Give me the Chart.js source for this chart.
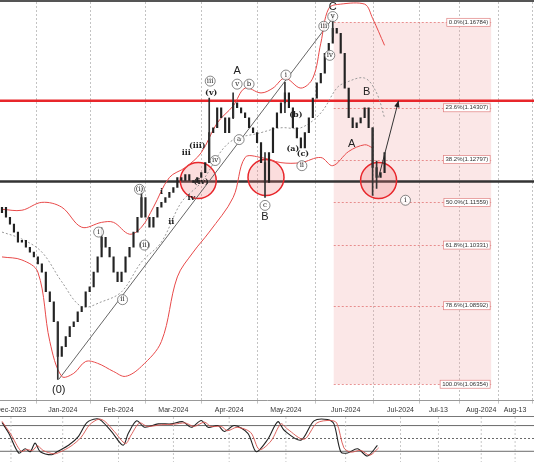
<!DOCTYPE html>
<html>
<head>
<meta charset="utf-8">
<script src="https://cdn.jsdelivr.net/npm/chart.js@4"></script>
<style>
  body { margin: 0; background: #fff; width: 534px; height: 462px; overflow: hidden; font-family: "Liberation Sans", Arial, sans-serif; }
  #main-wrap { position: absolute; left: 0; top: 0; width: 534px; height: 416px; border-top: 2px solid #555; box-sizing: border-box; }
  #stoch-wrap { position: absolute; left: 0; top: 416px; width: 534px; height: 46px; border-top: 1px solid #777; box-sizing: border-box; }
</style>
</head>
<body>
<div id="main-wrap"><canvas id="price-chart"></canvas></div>
<div id="stoch-wrap"><canvas id="stoch-chart"></canvas></div>
<script>
// closes, one per bar (bar index = position)
const closes = [
  1.1268, 1.1235, 1.1212, 1.1186, 1.1153, 1.1159, 1.1136, 1.1120, 1.1104, 1.1081,
  1.1054, 1.0989, 1.0956, 1.0890, 1.0776, 1.0808, 1.0841, 1.0874, 1.0890, 1.0923,
  1.0940, 1.0989, 1.1005, 1.1054, 1.1104, 1.1169, 1.1136, 1.1104, 1.1054, 1.1022,
  1.1054, 1.1104, 1.1136, 1.1186, 1.1235, 1.1300, 1.1235, 1.1202, 1.1235, 1.1268,
  1.1284, 1.1300, 1.1317, 1.1333, 1.1366, 1.1356, 1.1376, 1.1356, 1.1350, 1.1366,
  1.1382, 1.1415, 1.1514, 1.1530, 1.1596, 1.1563, 1.1514, 1.1563, 1.1612, 1.1596,
  1.1579, 1.1563, 1.1530, 1.1514, 1.1481, 1.1415, 1.1350, 1.1448, 1.1530, 1.1579,
  1.1612, 1.1645, 1.1596, 1.1530, 1.1497, 1.1464, 1.1514, 1.1563, 1.1628, 1.1678,
  1.1710, 1.1776, 1.1809, 1.1858, 1.1842, 1.1776, 1.1661, 1.1563, 1.1530, 1.1546,
  1.1563, 1.1596, 1.1530, 1.1399, 1.1366, 1.1382, 1.1448
];
const firstOpen = 1.1250;

// notable wicks: [bar, low, high]
const wicks = [
  [14, 1.0700, 1.0890], [25, 1.1136, 1.1200], [35, 1.1235, 1.1330], [52, 1.1415, 1.1628],
  [58, 1.1560, 1.1645], [66, 1.1300, 1.1448], [71, 1.1580, 1.1680], [83, 1.1830, 1.1901],
  [93, 1.1307, 1.1530], [94, 1.1330, 1.1420]
];

const bandUpper = [[0,1.1261],[5,1.1258],[10,1.1284],[15,1.1268],[20,1.1202],[25,1.1218],[28,1.1218],[32,1.1179],[35,1.1202],[38,1.1268],[42,1.1366],[46,1.1399],[50,1.1448],[54,1.1546],[58,1.1602],[61,1.1661],[65,1.1645],[68,1.1661],[71,1.1694],[75,1.1661],[78,1.1694],[80,1.1809],[82,1.1924],[85,1.1938],[91,1.1938],[93,1.1891],[96,1.1802]];
const bandLower = [[0,1.1104],[5,1.1094],[9,1.1054],[12,1.0825],[15,1.0710],[18,1.0720],[21,1.0759],[24,1.0753],[28,1.0726],[31,1.0710],[35,1.0743],[40,1.0825],[44,1.1038],[48,1.1120],[52,1.1186],[58,1.1300],[61,1.1432],[65,1.1432],[70,1.1415],[75,1.1415],[80,1.1432],[83,1.1405],[87,1.1452],[91,1.1474],[93,1.1464]];
const bandMid = [[0,1.1186],[5,1.1163],[10,1.1120],[15,1.1022],[20,1.0940],[25,1.0956],[30,1.0989],[35,1.1087],[40,1.1153],[45,1.1284],[50,1.1350],[57,1.1481],[65,1.1514],[70,1.1530],[75,1.1530],[80,1.1579],[84,1.1661],[86,1.1678],[91,1.1694],[94,1.1645],[96,1.1563]];

const tickPos = [2.25, 15.25, 29.25, 43, 57, 71.25, 86.25, 100, 109.5, 120.25, 128.75];
const tickText = ["Dec-2023", "Jan-2024", "Feb-2024", "Mar-2024", "Apr-2024", "May-2024", "Jun-2024", "Jul-2024", "Jul-13", "Aug-2024", "Aug-13"];

const fibLevels = [1.1878, 1.1596, 1.1425, 1.1284, 1.1143, 1.0943, 1.0684];
const fibText = ["0.0%(1.16784)", "23.6%(1.14307)", "38.2%(1.12797)", "50.0%(1.11559)", "61.8%(1.10331)", "78.6%(1.08592)", "100.0%(1.06354)"];
const fibBox = [83.25, 122.75];

const redLevel = 1.1619;
const blackLevel = 1.1353;
const channel = [[14.25, 1.0700], [83.5, 1.1900]];
const arrowPath = [[94.5, 1.1366], [99.5, 1.1619]];
const circles = [[49.25, 1.1356], [66.25, 1.1366], [94.5, 1.1356]];

// [x, price, text, circled]
const waveLabels = [
  [14.25, 1.0664, "(0)", false], [24.25, 1.1186, "i", true], [30.25, 1.0963, "ii", true],
  [34.5, 1.1327, "(i)", true], [35.75, 1.1143, "(ii)", true], [40, 1.1317, "i", false],
  [42.5, 1.1218, "ii", false], [46.25, 1.1448, "iii", false], [49, 1.1471, "(iii)", false],
  [47.5, 1.1300, "iv", false], [50, 1.1350, "(iv)", false], [52.25, 1.1684, "iii", true],
  [52.5, 1.1645, "(v)", false], [53.5, 1.1422, "iv", true], [59, 1.1717, "A", false],
  [59, 1.1674, "v", true], [62, 1.1674, "b", true], [59.5, 1.1491, "a", true],
  [66, 1.1274, "c", true], [66, 1.1235, "B", false], [71.25, 1.1704, "i", true],
  [73.75, 1.1573, "(b)", false], [73, 1.1461, "(a)", false], [75.5, 1.1445, "(c)", false],
  [75.25, 1.1405, "ii", true], [80.75, 1.1865, "iii", true], [82.25, 1.1769, "iv", true],
  [83, 1.1897, "v", true], [83, 1.1930, "C", false], [87.75, 1.1478, "A", false],
  [91.5, 1.1648, "B", false], [101.25, 1.1291, "i", true]
];

const stochK = [[0,87],[1.7,62],[4.2,16],[5.8,26],[7.1,19],[8.3,39],[9.6,19],[12.5,12],[13.8,19],[16.7,34],[19.2,55],[21.3,87],[23.8,96],[25,91],[27.5,66],[30.4,34],[31.7,62],[33.8,91],[35.8,76],[39.2,84],[42.5,84],[45.4,89],[47.5,76],[50,92],[51.7,76],[54.2,80],[55.8,66],[58.3,80],[61.7,62],[63.8,19],[66.7,48],[69.2,89],[70.8,69],[75,46],[78.3,91],[81.7,94],[83.3,84],[85,19],[86.7,16],[89.2,26],[91.7,9],[94.2,34]];
const stochD = [[0,90],[2.2,60],[4.8,20],[6.3,24],[7.7,22],[8.9,33],[10.3,22],[13,14],[14.5,18],[17.3,32],[19.8,52],[22,82],[24.3,95],[25.8,90],[28.2,66],[31,38],[32.4,58],[34.5,86],[36.5,78],[40,82],[43,83],[46,86],[48.2,78],[50.8,88],[52.4,78],[55,78],[56.6,68],[59,76],[62.4,64],[64.6,24],[67.5,44],[70,84],[71.6,72],[75.8,48],[79,86],[82.4,92],[84,86],[85.8,28],[87.5,18],[90,22],[92.3,11],[94.5,28]];

const X_MIN = -0.5, X_MAX = 133.5;
const xy = (arr) => arr.map(([x, y]) => ({ x, y }));

const candles = closes.map((c, i) => ({ x: i, y: [i === 0 ? firstOpen : closes[i - 1], c] }));

const overlayPlugin = {
  id: "overlay",
  beforeDatasetsDraw(chart) {
    const { ctx, scales: { x, y }, chartArea } = chart;
    ctx.save();
    // fib box
    ctx.fillStyle = "rgba(240,170,170,0.28)";
    ctx.fillRect(x.getPixelForValue(fibBox[0]), y.getPixelForValue(fibLevels[0]),
      x.getPixelForValue(fibBox[1]) - x.getPixelForValue(fibBox[0]),
      y.getPixelForValue(fibLevels[6]) - y.getPixelForValue(fibLevels[0]));
    ctx.strokeStyle = "rgba(220,90,90,0.8)";
    ctx.setLineDash([2, 2]);
    ctx.lineWidth = 0.8;
    fibLevels.forEach((lv) => {
      const py = Math.round(y.getPixelForValue(lv)) + 0.5;
      ctx.beginPath();
      ctx.moveTo(x.getPixelForValue(fibBox[0]), py);
      ctx.lineTo(x.getPixelForValue(fibBox[1]), py);
      ctx.stroke();
    });
    ctx.setLineDash([]);
    // horizontal levels
    ctx.lineWidth = 2.5;
    ctx.strokeStyle = "#e8262b";
    let py = y.getPixelForValue(redLevel);
    ctx.beginPath(); ctx.moveTo(chartArea.left, py); ctx.lineTo(chartArea.right, py); ctx.stroke();
    ctx.strokeStyle = "#333";
    py = y.getPixelForValue(blackLevel);
    ctx.beginPath(); ctx.moveTo(chartArea.left, py); ctx.lineTo(chartArea.right, py); ctx.stroke();
    ctx.restore();
  },
  afterDatasetsDraw(chart) {
    const { ctx, scales: { x, y } } = chart;
    ctx.save();
    // fib labels
    ctx.font = "6px 'Liberation Sans', Arial";
    ctx.textAlign = "right";
    ctx.textBaseline = "middle";
    fibLevels.forEach((lv, i) => {
      const px = x.getPixelForValue(fibBox[1]) - 1;
      const py = y.getPixelForValue(lv);
      const w = ctx.measureText(fibText[i]).width + 4;
      ctx.fillStyle = "#fff";
      ctx.strokeStyle = "#e08080";
      ctx.lineWidth = 0.7;
      ctx.fillRect(px - w, py - 4, w, 8);
      ctx.strokeRect(px - w, py - 4, w, 8);
      ctx.fillStyle = "#333";
      ctx.fillText(fibText[i], px - 2, py);
    });
    // arrow head
    const ax = x.getPixelForValue(arrowPath[1][0]), ay = y.getPixelForValue(arrowPath[1][1]);
    const bx = x.getPixelForValue(arrowPath[0][0]), by = y.getPixelForValue(arrowPath[0][1]);
    const ang = Math.atan2(ay - by, ax - bx);
    ctx.fillStyle = "#222";
    ctx.beginPath();
    ctx.moveTo(ax, ay);
    ctx.lineTo(ax - 7 * Math.cos(ang - 0.4), ay - 7 * Math.sin(ang - 0.4));
    ctx.lineTo(ax - 7 * Math.cos(ang + 0.4), ay - 7 * Math.sin(ang + 0.4));
    ctx.closePath();
    ctx.fill();
    // wave labels
    ctx.textAlign = "center";
    waveLabels.forEach(([lx, ly, t, circ]) => {
      const px = x.getPixelForValue(lx), py = y.getPixelForValue(ly);
      if (circ) {
        ctx.font = "7px 'DejaVu Serif', serif";
        ctx.beginPath();
        ctx.arc(px, py, 5, 0, Math.PI * 2);
        ctx.fillStyle = "rgba(255,255,255,0.85)";
        ctx.fill();
        ctx.strokeStyle = "#555";
        ctx.lineWidth = 0.7;
        ctx.stroke();
        ctx.fillStyle = "#222";
      } else {
        ctx.font = /^[ABC]$|\(0\)/.test(t) ? "11px 'Liberation Sans', Arial" : "bold 8px 'DejaVu Serif', serif";
        ctx.fillStyle = "#222";
      }
      ctx.fillText(t, px, py);
    });
    ctx.restore();
  },
};

new Chart(document.getElementById("price-chart"), {
  data: {
    datasets: [
      { type: "bubble", data: circles.map(([x, y]) => ({ x, y, r: 18 })), backgroundColor: "rgba(240,120,120,0.25)", borderColor: "#e8262b", borderWidth: 1.5, order: 5 },
      { type: "line", data: xy(channel), borderColor: "#666", borderWidth: 1, pointRadius: 0, order: 4 },
      { type: "line", data: xy(bandUpper), borderColor: "#e84a4a", borderWidth: 1, pointRadius: 0, tension: 0.35, order: 3 },
      { type: "line", data: xy(bandLower), borderColor: "#e84a4a", borderWidth: 1, pointRadius: 0, tension: 0.35, order: 3 },
      { type: "line", data: xy(bandMid), borderColor: "#999", borderDash: [2, 2], borderWidth: 1, pointRadius: 0, tension: 0.35, order: 3 },
      { type: "bar", data: wicks.map(([i, lo, hi]) => ({ x: i, y: [lo, hi] })), backgroundColor: "#333", borderWidth: 0, barThickness: 1, grouped: false, order: 2 },
      { type: "bar", data: candles, backgroundColor: "#222", borderColor: "#222", borderWidth: 0, barThickness: 1.5, grouped: false, order: 2 },
      { type: "line", data: xy(arrowPath), borderColor: "#333", borderWidth: 1, pointRadius: 0, order: 1 },
    ],
  },
  options: {
    responsive: true,
    maintainAspectRatio: false,
    animation: false,
    layout: { padding: 0, autoPadding: false },
    plugins: { legend: { display: false }, tooltip: { enabled: false } },
    scales: {
      x: {
        type: "linear", min: X_MIN, max: X_MAX, offset: false,
        afterBuildTicks: (axis) => { axis.ticks = tickPos.map((v) => ({ value: v })); },
        afterFit: (axis) => { axis.paddingLeft = 0; axis.paddingRight = 0; },
        ticks: { autoSkip: false, maxRotation: 0, padding: 2, font: { size: 7 }, color: "#333",
          callback: (v) => tickText[tickPos.indexOf(v)] },
        grid: { color: "#aaa", lineWidth: 0.7, tickLength: 3 },
        border: { dash: [2, 2], color: "#999" },
      },
      y: { display: false, min: 1.0630, max: 1.1945 },
    },
  },
  plugins: [overlayPlugin],
});

const stochLines = {
  id: "stochLines",
  beforeDatasetsDraw(chart) {
    const { ctx, scales: { x, y }, chartArea } = chart;
    ctx.save();
    ctx.lineWidth = 0.8;
    [20, 50, 80].forEach((lv) => {
      ctx.strokeStyle = "#444";
      ctx.setLineDash(lv === 50 ? [2, 2] : []);
      const py = y.getPixelForValue(lv);
      ctx.beginPath(); ctx.moveTo(chartArea.left, py); ctx.lineTo(chartArea.right, py); ctx.stroke();
    });
    ctx.strokeStyle = "#bbb";
    ctx.setLineDash([2, 2]);
    tickPos.forEach((v) => {
      const px = x.getPixelForValue(v);
      ctx.beginPath(); ctx.moveTo(px, chartArea.top); ctx.lineTo(px, chartArea.bottom); ctx.stroke();
    });
    ctx.restore();
  },
};

new Chart(document.getElementById("stoch-chart"), {
  type: "line",
  data: {
    datasets: [
      { data: xy(stochD), borderColor: "#d9534f", borderWidth: 0.9, pointRadius: 0, tension: 0.3 },
      { data: xy(stochK), borderColor: "#222", borderWidth: 1.1, pointRadius: 0, tension: 0.3 },
    ],
  },
  options: {
    responsive: true,
    maintainAspectRatio: false,
    animation: false,
    layout: { padding: 0, autoPadding: false },
    plugins: { legend: { display: false }, tooltip: { enabled: false } },
    scales: {
      x: { type: "linear", display: false, min: X_MIN, max: X_MAX },
      y: { display: false, min: -5, max: 100 },
    },
  },
  plugins: [stochLines],
});
</script>
</body>
</html>
